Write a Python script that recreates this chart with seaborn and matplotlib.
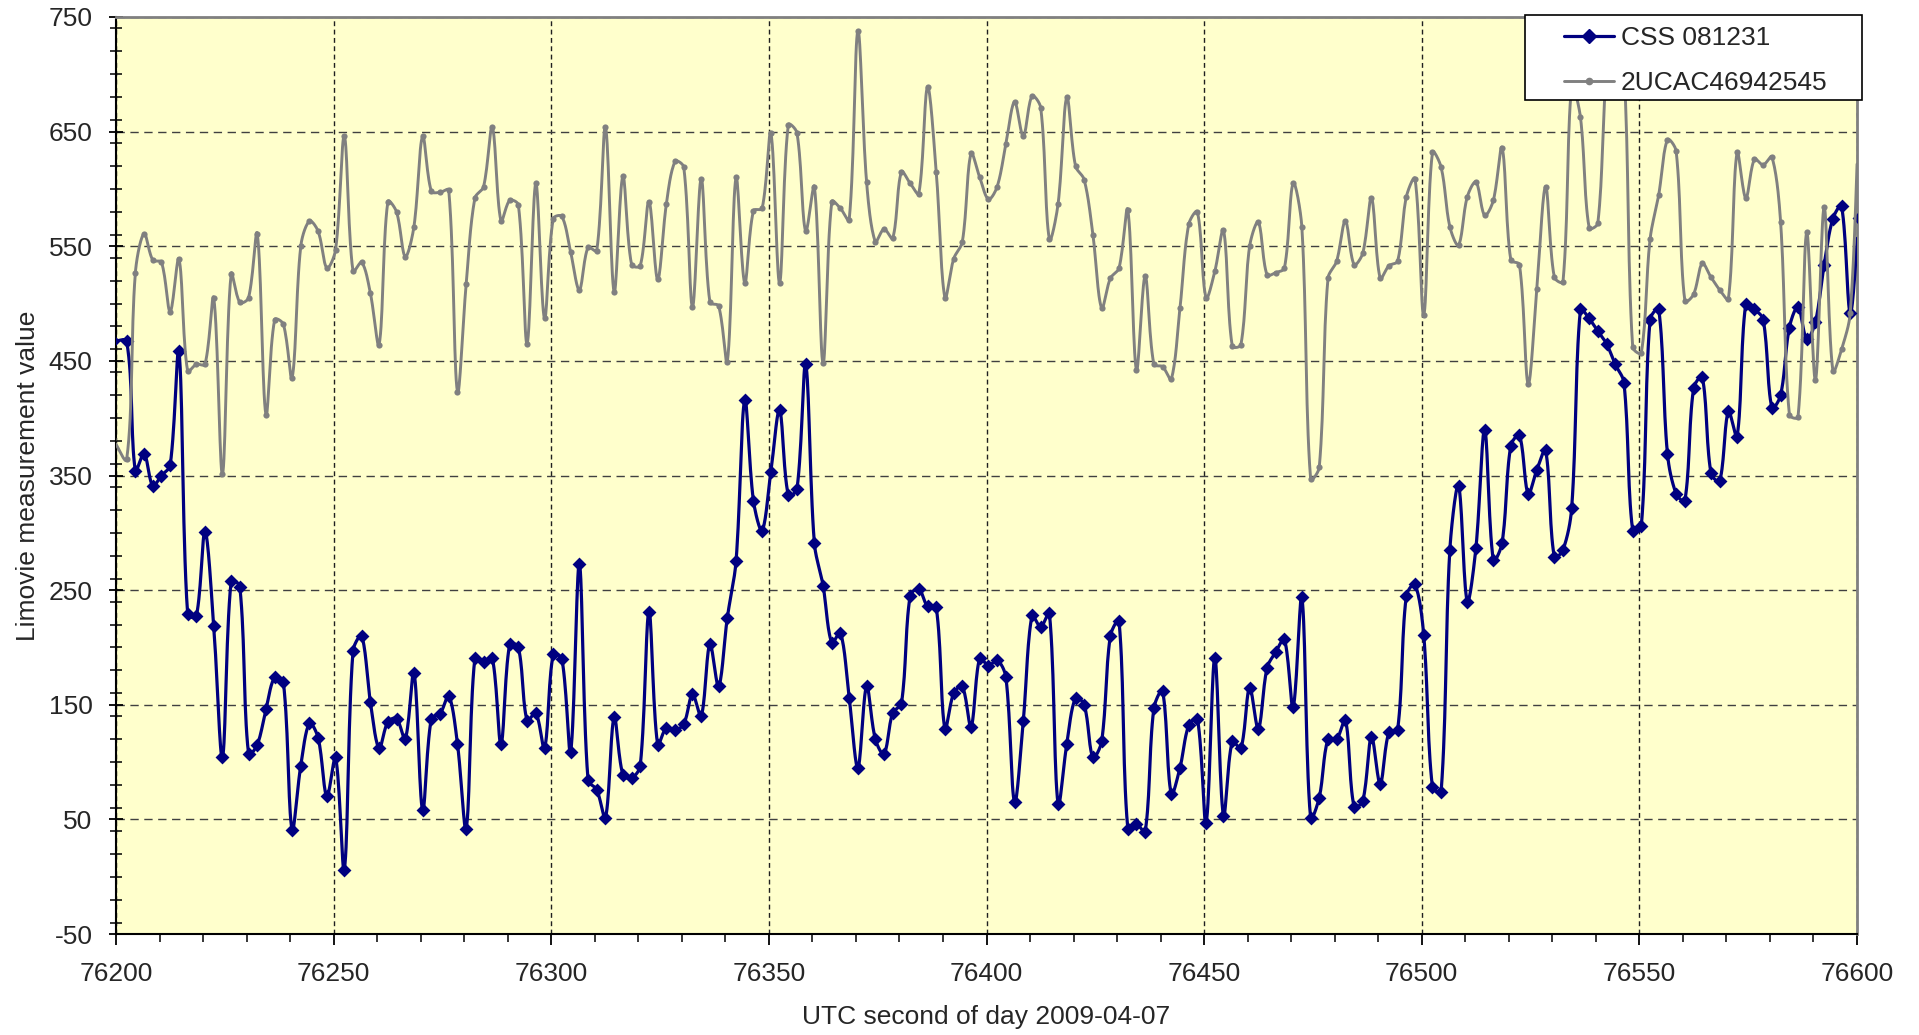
import numpy as np
import pandas as pd
import matplotlib
matplotlib.use('Agg')
import matplotlib.pyplot as plt
from matplotlib.lines import Line2D
from matplotlib.patches import Rectangle
from matplotlib.ticker import MultipleLocator
import seaborn as sns

# sample times (s), one frame every 2 s plus one point on each side of the window
t_first = 76199.3
t_start = 76202.45
t_step = 2.0
t_last = 76600.45

# Limovie values, in time order
css = [467,
       467, 354, 369, 341, 350, 359, 459, 229, 227, 301, 219, 104, 258, 253, 107, 115, 146, 174, 170, 41, 97, 134, 121, 70, 104,
       6, 197, 210, 152, 112, 135, 138, 120, 178, 58, 138, 142, 158, 116, 42, 191, 187, 191, 116, 203, 200, 136, 143, 112, 194,
       190, 109, 273, 84, 76, 51, 139, 89, 86, 97, 231, 115, 130, 128, 133, 159, 140, 203, 166, 226, 275, 416, 328, 302, 353,
       407, 333, 338, 447, 291, 254, 204, 213, 156, 95, 166, 120, 107, 143, 151, 245, 251, 236, 235, 129, 160, 166, 131, 191, 184,
       189, 174, 65, 136, 228, 218, 230, 63, 116, 156, 150, 104, 118, 210, 223, 42, 46, 39, 147, 162, 72, 95, 132, 138, 47, 191,
       53, 118, 112, 165, 129, 182, 196, 207, 148, 244, 51, 69, 120, 120, 137, 61, 66, 122, 81, 126, 128, 245, 255, 211, 78,
       74, 285, 341, 240, 287, 390, 276, 291, 376, 385, 334, 355, 372, 279, 285, 322, 495, 487, 476, 465, 447, 431, 302, 306, 486,
       495, 369, 334, 328, 426, 436, 352, 345, 406, 384, 500, 495, 486, 409, 420, 479, 497, 469, 484, 534, 574, 585, 492,
       575]

ucac = [382,
        364, 527, 561, 538, 536, 493, 539, 441, 447, 447, 505, 351, 526, 501, 505, 561, 403, 486, 482, 435, 550, 572, 563, 531, 547,
        646, 528, 536, 509, 464, 589, 580, 541, 567, 646, 598, 597, 599, 423, 517, 592, 602, 654, 572, 590, 586, 465, 605, 487, 574,
        576, 545, 512, 549, 546, 654, 510, 611, 534, 533, 589, 521, 587, 624, 619, 497, 609, 501, 498, 449, 610, 518, 581, 583, 649,
        518, 656, 649, 563, 602, 448, 589, 583, 573, 738, 606, 554, 565, 557, 615, 605, 596, 689, 615, 505, 539, 554, 631, 610, 591,
        602, 639, 676, 646, 681, 671, 556, 587, 680, 620, 608, 560, 496, 522, 531, 582, 442, 524, 447, 445, 434, 496, 569, 580, 505, 528,
        564, 463, 464, 550, 571, 525, 527, 531, 605, 567, 347, 357, 522, 537, 572, 534, 544, 592, 522, 533, 537, 593, 609, 490, 632,
        619, 567, 551, 593, 606, 577, 590, 636, 538, 534, 430, 513, 602, 523, 519, 690, 663, 566, 570, 700, 730, 705, 462, 457, 556,
        595, 643, 633, 502, 508, 535, 523, 512, 504, 632, 592, 626, 621, 628, 571, 403, 401, 562, 433, 584, 441, 460, 492,
        665]

labels = ['CSS 081231', '2UCAC46942545']
xticks = [76200, 76250, 76300, 76350, 76400, 76450, 76500, 76550, 76600]
yticks = [-50, 50, 150, 250, 350, 450, 550, 650, 750]

n_mid = len(css) - 2
times = np.concatenate([[t_first], t_start + t_step * np.arange(n_mid), [t_last]])
df = pd.DataFrame({'t': times, 'css': css, 'ucac': ucac})

# pixels per data unit, used so the smoothing is done in screen space like Excel
SX, SY = 1741 / 400, 917 / 800


def smooth(x, y, steps=16):
    # Excel-style smoothed line: bezier segments, tangents weighted by segment length
    x = np.asarray(x, float) * SX
    y = np.asarray(y, float) * SY
    P = np.column_stack([x, y])
    P = np.vstack([P[0], P, P[-1]])
    s = np.linspace(0, 1, steps, endpoint=False)[:, None]
    out = []
    for i in range(1, len(P) - 2):
        p0, p1, p2, p3 = P[i - 1], P[i], P[i + 1], P[i + 2]
        d01 = np.hypot(*(p1 - p0))
        d12 = np.hypot(*(p2 - p1))
        d23 = np.hypot(*(p3 - p2))
        f1 = d12 / (d01 + d12) / 3 if d01 + d12 > 0 else 0
        f2 = d12 / (d12 + d23) / 3 if d12 + d23 > 0 else 0
        c1 = p1 + (p2 - p0) * f1
        c2 = p2 - (p3 - p1) * f2
        out.append((1 - s) ** 3 * p1 + 3 * s * (1 - s) ** 2 * c1 + 3 * s ** 2 * (1 - s) * c2 + s ** 3 * p2)
    out.append(P[-2][None, :])
    out = np.vstack(out)
    return out[:, 0] / SX, out[:, 1] / SY


sns.set_theme(style='ticks')
plt.rcParams['font.family'] = ['Liberation Sans', 'DejaVu Sans']
plt.rcParams['axes.unicode_minus'] = False

fig = plt.figure(figsize=(19.19, 10.35), dpi=100)
ax = fig.add_axes([116 / 1919, 1 - 934 / 1035, (1857 - 116) / 1919, (934 - 17) / 1035])
ax.set_facecolor('#FFFFCC')

navy = '#000080'
grey = '#808080'

cx, cy = smooth(df['t'], df['css'])
sns.lineplot(x=cx, y=cy, sort=False, estimator=None, color=navy, linewidth=2.3, ax=ax, zorder=3)
sns.scatterplot(data=df, x='t', y='css', marker='D', s=50, color=navy, edgecolor=navy, linewidth=0, ax=ax, zorder=4)

gx, gy = smooth(df['t'], df['ucac'])
sns.lineplot(x=gx, y=gy, sort=False, estimator=None, color=grey, linewidth=2.1, ax=ax, zorder=5)
sns.scatterplot(data=df, x='t', y='ucac', marker='o', s=20, color=grey, edgecolor=grey, linewidth=0, ax=ax, zorder=6)

ax.set_xlim(76200, 76600)
ax.set_ylim(-50, 750)
ax.set_xticks(xticks)
ax.set_yticks(yticks)
ax.xaxis.set_minor_locator(MultipleLocator(10))
ax.yaxis.set_minor_locator(MultipleLocator(20))
ax.tick_params(axis='both', which='major', labelsize=19, color='black', width=1.3)
ax.tick_params(axis='y', which='major', direction='inout', length=10, pad=12)
ax.tick_params(axis='y', which='minor', direction='inout', length=8, width=1.1, color='black')
ax.tick_params(axis='x', which='major', direction='out', length=8, pad=12)
ax.tick_params(axis='x', which='minor', direction='out', length=6, width=1.1, color='black')

ax.yaxis.grid(True, which='major', color='#404040', linestyle=(0, (6, 4)), linewidth=1.0)
ax.xaxis.grid(True, which='major', color='#202020', linestyle=(0, (3.5, 2.5)), linewidth=1.0)
ax.set_axisbelow(True)

for side in ['left', 'bottom']:
    ax.spines[side].set_color('black')
    ax.spines[side].set_linewidth(1.5)
for side in ['top', 'right']:
    ax.spines[side].set_color(grey)
    ax.spines[side].set_linewidth(2.0)

ax.set_xlabel('UTC second of day 2009-04-07', fontsize=19, labelpad=14)
ax.set_ylabel('Limovie measurement value', fontsize=19, labelpad=6)

# legend box drawn as a figure patch, entries placed inside it
box = Rectangle((1525 / 1919, 1 - 100 / 1035), 337 / 1919, 85 / 1035, transform=fig.transFigure,
                facecolor='white', edgecolor='black', linewidth=1.2, zorder=5)
fig.patches.append(box)

handles = [Line2D([], [], color=navy, linewidth=2.3, marker='D', markersize=7),
           Line2D([], [], color=grey, linewidth=2.1, marker='o', markersize=4.5)]
leg = fig.legend(handles, labels, loc='upper left', bbox_to_anchor=(1564 / 1919, 1 - 26 / 1035),
                 fontsize=19, frameon=False, handlelength=1.9, handletextpad=0.25,
                 borderpad=0, labelspacing=0.8, borderaxespad=0)
leg.set_zorder(6)

fig.savefig('out.png', dpi=100, facecolor='white')
